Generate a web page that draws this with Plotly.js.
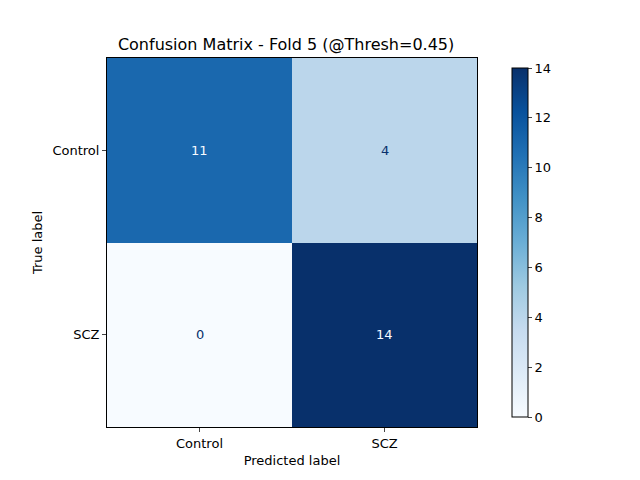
<!DOCTYPE html>
<html>
<head>
<script src="https://cdn.plot.ly/plotly-3.0.1.min.js"></script>
</head>
<body style="margin:0">
<div id="cm" style="width:640px;height:480px"></div>
<script>
var labels = ["Control", "SCZ"];
var counts = [
    [11, 4],
    [0, 14]
];
var cbTicks = [0, 2, 4, 6, 8, 10, 12, 14];

var blues = [
    [0, "#f7fbff"], [0.125, "#deebf7"], [0.25, "#c6dbef"], [0.375, "#9ecae1"],
    [0.5, "#6baed6"], [0.625, "#4292c6"], [0.75, "#2171b5"], [0.875, "#08519c"], [1, "#08306b"]
];

var zmax = 14;
var annotations = [];
for (var i = 0; i < labels.length; i++) {
    for (var j = 0; j < labels.length; j++) {
        annotations.push({
            x: labels[j], y: labels[i], text: String(counts[i][j]),
            showarrow: false,
            font: {size: 13, color: counts[i][j] > zmax / 2 ? "#f7fbff" : "#08306b"}
        });
    }
}

var trace = {
    type: "heatmap",
    x: labels,
    y: labels,
    z: counts,
    zmin: 0,
    zmax: zmax,
    colorscale: blues,
    showscale: true,
    colorbar: {
        x: 1.0676, xanchor: "left", y: 0.5, len: 1, thickness: 16,
        outlinewidth: 1, outlinecolor: "black",
        tickvals: cbTicks, ticks: "outside", ticklen: 4,
        tickfont: {size: 13, color: "black"}
    },
    hoverinfo: "none"
};

var axisStyle = {
    showline: true, mirror: true, linecolor: "black", linewidth: 1,
    ticks: "outside", ticklen: 4, showgrid: false, zeroline: false,
    tickfont: {size: 13, color: "black"}
};

var layout = {
    width: 640, height: 480,
    margin: {l: 107, r: 163, t: 58, b: 53},
    font: {family: "DejaVu Sans", color: "black"},
    paper_bgcolor: "white", plot_bgcolor: "white",
    title: {text: "Confusion Matrix - Fold 5 (@Thresh=0.45)", font: {size: 16}, x: 0.447, xanchor: "center", y: 0.908, yanchor: "middle"},
    xaxis: Object.assign({title: {text: "Predicted label", font: {size: 13}, standoff: 6}}, axisStyle),
    yaxis: Object.assign({title: {text: "True label", font: {size: 13}, standoff: 6}, autorange: "reversed"}, axisStyle),
    annotations: annotations
};

Plotly.newPlot("cm", [trace], layout, {staticPlot: true});
</script>
</body>
</html>
